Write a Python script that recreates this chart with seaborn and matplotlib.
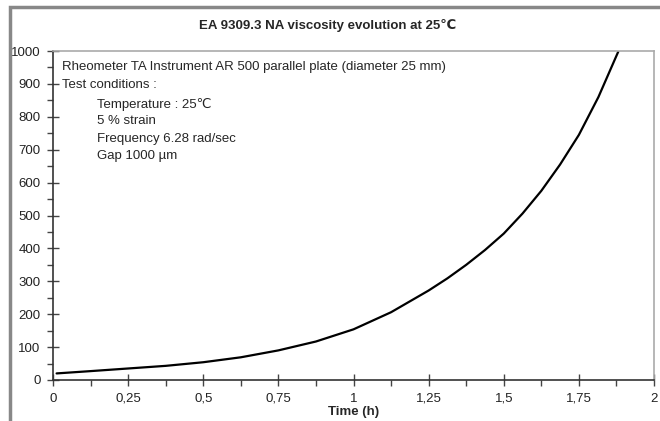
import numpy as np
import pandas as pd
import matplotlib.pyplot as plt
import seaborn as sns
from matplotlib.patches import Rectangle
from matplotlib.ticker import MultipleLocator

# Viscosity readings taken off the reference curve
time_h = [0.012, 0.125, 0.25, 0.375, 0.5, 0.625, 0.75, 0.875, 1.0,
          1.125, 1.25, 1.3125, 1.375, 1.4375, 1.5, 1.5625, 1.625,
          1.6875, 1.75, 1.815, 1.882]
viscosity = [20, 27, 35, 43, 54, 69, 90, 117, 154,
             206, 272, 309, 350, 395, 445, 506, 575,
             655, 745, 860, 1000]

x_ticks = [0, 0.25, 0.5, 0.75, 1, 1.25, 1.5, 1.75, 2]
x_tick_labels = ['0', '0,25', '0,5', '0,75', '1', '1,25', '1,5', '1,75', '2']
y_ticks = [0, 100, 200, 300, 400, 500, 600, 700, 800, 900, 1000]

notes = ['Rheometer TA Instrument AR 500 parallel plate (diameter 25 mm)',
         'Test conditions :']
conditions = ['Temperature : 25\u2103', '5 % strain',
              'Frequency 6.28 rad/sec', 'Gap 1000 \u00b5m']

sns.set_style('white')
plt.rcParams['font.family'] = ['Liberation Sans', 'DejaVu Sans']

df = pd.DataFrame({'Time (h)': time_h, 'Viscosity': viscosity})

fig = plt.figure(figsize=(6.6, 4.21), dpi=100)
ax = fig.add_axes([53 / 660, 1 - 380 / 421, 601 / 660, 329 / 421])

sns.lineplot(data=df, x='Time (h)', y='Viscosity', ax=ax, color='black', linewidth=1.6)

ax.set_xlim(0, 2)
ax.set_ylim(0, 1000)
ax.set_xticks(x_ticks)
ax.set_xticklabels(x_tick_labels)
ax.set_yticks(y_ticks)
ax.xaxis.set_minor_locator(MultipleLocator(0.125))
ax.yaxis.set_minor_locator(MultipleLocator(50))
ax.tick_params(which='major', direction='inout', length=8, width=1, color='#444444',
               labelsize=9.5, pad=5, labelcolor='#222222')
ax.tick_params(which='minor', direction='out', length=4, width=1, color='#444444')
ax.tick_params(axis='x', which='both', bottom=True)
ax.tick_params(axis='y', which='both', left=True)
ax.set_xlabel('Time (h)', fontsize=9.5, fontweight='bold', labelpad=1)
ax.set_ylabel('')

for side in ['left', 'bottom']:
    ax.spines[side].set_color('#333333')
    ax.spines[side].set_linewidth(1.2)
for side in ['top', 'right']:
    ax.spines[side].set_color('#aaaaaa')
    ax.spines[side].set_linewidth(1.2)

ax.text(0.015, 0.95, notes[0], transform=ax.transAxes, fontsize=9.5, va='center')
ax.text(0.015, 0.898, notes[1], transform=ax.transAxes, fontsize=9.5, va='center')
for i, line in enumerate(conditions):
    ax.text(0.073, 0.838 - i * 0.052, line, transform=ax.transAxes, fontsize=9.5, va='center')

fig.text(0.497, 1 - 25 / 421, 'EA 9309.3 NA viscosity evolution at 25\u2103',
         ha='center', va='center', fontsize=9.5, fontweight='bold')

# grey frame around the figure (top and left edges visible)
fig.patches.append(Rectangle((10 / 660, -0.05), 1.2, 1 - 7 / 421 + 0.05,
                             transform=fig.transFigure, fill=False,
                             edgecolor='#888888', linewidth=2.5))

fig.savefig('out.png', dpi=100)
